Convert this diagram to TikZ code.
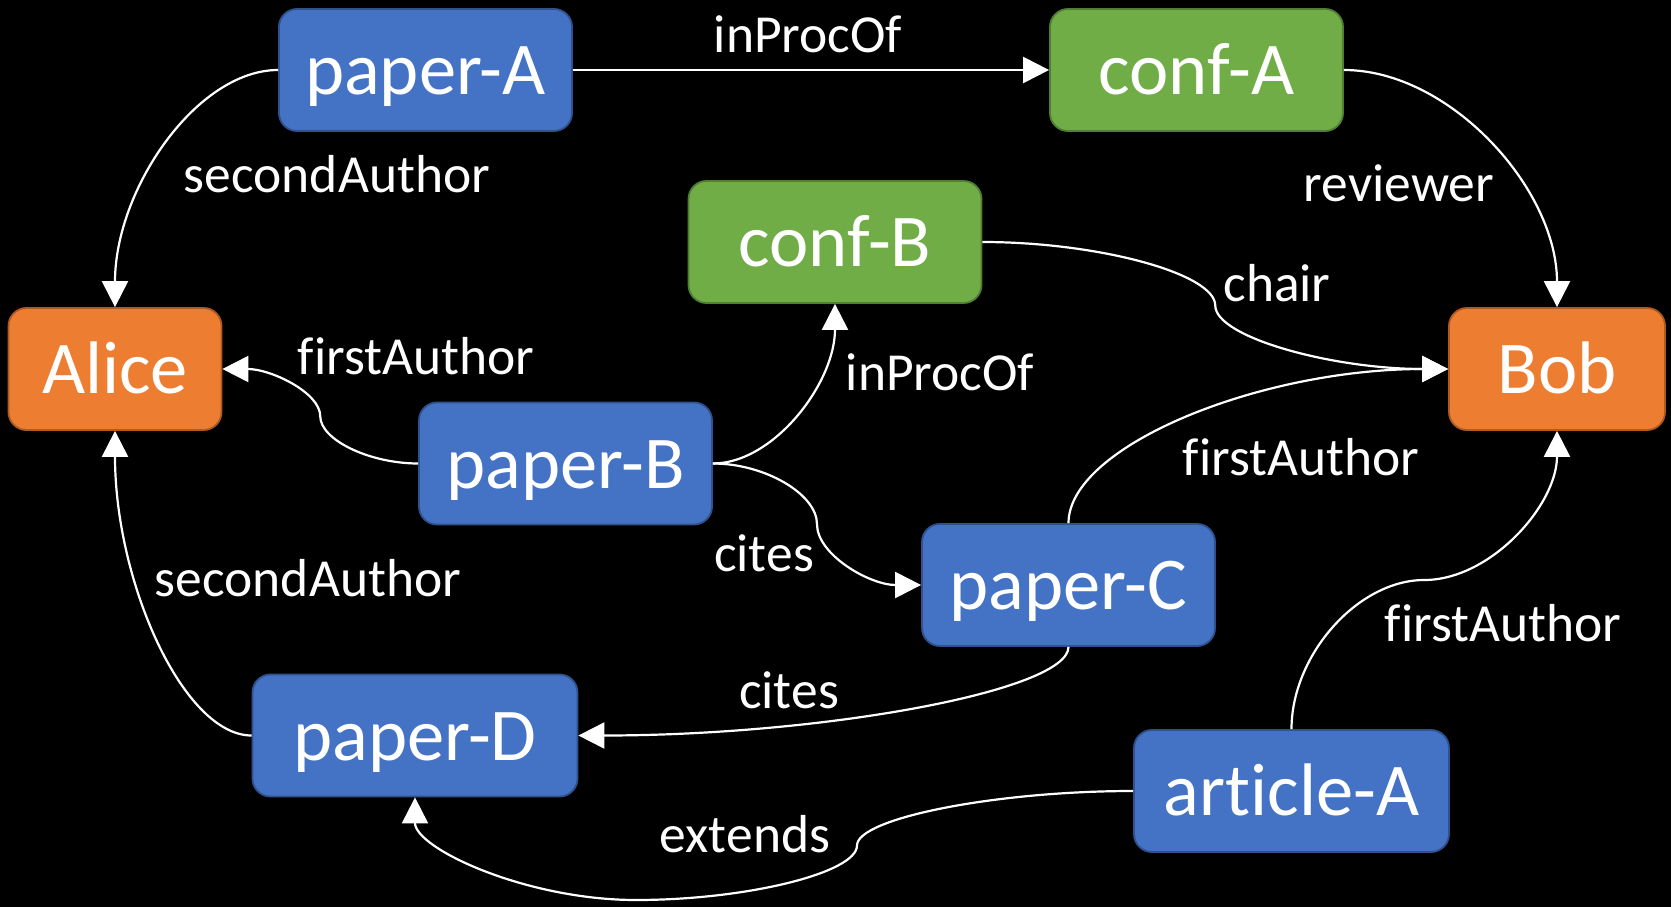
\documentclass[tikz,border=0pt]{standalone}
\usepackage{fontspec}
\setmainfont{Carlito}[Ligatures=NoCommon]
\usetikzlibrary{arrows.meta}
\definecolor{obBlue}{HTML}{4472C4}
\definecolor{obBlueD}{HTML}{2F528F}
\definecolor{obGreen}{HTML}{70AD47}
\definecolor{obGreenD}{HTML}{507E32}
\definecolor{obOrange}{HTML}{ED7D31}
\definecolor{obOrangeD}{HTML}{AE5A21}
\tikzset{
  boxnode/.style={rectangle, rounded corners=18pt, line width=1.8pt, text=white,
    minimum height=122pt, inner sep=0pt, font=\fontsize{74.5}{80}\selectfont,
    text height=49pt, text depth=0pt},
  bluebox/.style={boxnode, fill=obBlue, draw=obBlueD},
  greenbox/.style={boxnode, fill=obGreen, draw=obGreenD},
  orangebox/.style={boxnode, fill=obOrange, draw=obOrangeD},
  lbl/.style={text=white, font=\fontsize{53.5}{60}\selectfont, anchor=base, inner sep=0pt},
  conn/.style={draw=white, line width=2.2pt, -{Triangle[length=26pt,width=26pt]}}
}
\begin{document}
\begin{tikzpicture}[x=1pt, y=-1pt]
\fill[black] (0,0) rectangle (1671,907);
\useasboundingbox (0,0) rectangle (1671,907);

% nodes
\node[bluebox, minimum width=293pt] (pA) at (425.5,70) {paper-A};
\node[greenbox, minimum width=293pt] (cA) at (1196.5,70) {conf-A};
\node[greenbox, minimum width=293pt] (cB) at (835,242) {conf-B};
\node[orangebox, minimum width=213pt] (alice) at (115,369) {Alice};
\node[orangebox, minimum width=216pt] (bob) at (1557,369) {Bob};
\node[bluebox, minimum width=293pt] (pB) at (565.5,463.5) {paper-B};
\node[bluebox, minimum width=293pt] (pC) at (1068.5,585) {paper-C};
\node[bluebox, minimum width=325pt] (pD) at (415,735.5) {paper-D};
\node[bluebox, minimum width=315pt] (aA) at (1291.5,791) {article-A};

% connectors
\draw[conn] (pA.west) .. controls (197,70) and (115,189) .. (alice.north);
\draw[conn] (pA.east) -- (cA.west);
\draw[conn] (cA.east) .. controls (1450,70) and (1557,189) .. (bob.north);
\draw[conn] (cB.east) .. controls (1098.4,242) and (1215.25,273.75) .. (1215.25,305.5)
  .. controls (1215.25,337.25) and (1332.1,369) .. (bob.west);
\draw[conn] (pB.west) .. controls (369.6,463.5) and (320.25,439.9) .. (320.25,416.25)
  .. controls (320.25,392.6) and (270.9,369) .. (alice.east);
\draw[conn] (pB.east) .. controls (773.5,463.5) and (835,383.25) .. (cB.south);
\draw[conn] (pB.east) .. controls (764.5,463.5) and (817,493.9) .. (817,524.25)
  .. controls (817,554.6) and (869.5,585) .. (pC.west);
\draw[conn] (pC.north) .. controls (1068.5,446.5) and (1258.75,369) .. (bob.west);
\draw[conn] (pC.south) .. controls (1068.5,690.75) and (823,735.5) .. (pD.east);
\draw[conn] (pD.west) .. controls (183.75,735.5) and (115,582.75) .. (alice.south);
\draw[conn] (aA.north) .. controls (1291.5,655) and (1357.9,580) .. (1424.25,580)
  .. controls (1490.6,580) and (1557,505) .. (bob.south);
\draw[conn] (aA.west) .. controls (995.5,791) and (857,818.25) .. (857,845.5)
  .. controls (857,872.75) and (746.5,900) .. (636,900)
  .. controls (525.5,900) and (415,848.25) .. (pD.south);

% labels
\node[lbl] (l1) at (808,52.5) {inProcOf};
\node[lbl] (l2) at (337,192) {secondAuthor};
\node[lbl] (l3) at (1399,201.5) {reviewer};
\node[lbl] (l4) at (1277,301.5) {chair};
\node[lbl] (l5) at (416,374) {firstAuthor};
\node[lbl] (l6) at (940,390) {inProcOf};
\node[lbl] (l7) at (1301,475) {firstAuthor};
\node[lbl] (l8) at (764,571.5) {cites};
\node[lbl] (l9) at (308,596.5) {secondAuthor};
\node[lbl] (l10) at (789,708) {cites};
\node[lbl] (l11) at (1503,641.7) {firstAuthor};
\node[lbl] (l12) at (745,852) {extends};
\end{tikzpicture}
\end{document}
